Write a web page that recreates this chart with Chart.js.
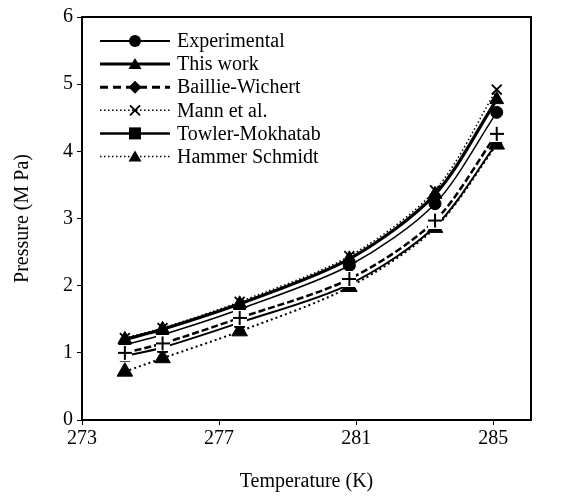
<!DOCTYPE html>
<html>
<head>
<meta charset="utf-8">
<script src="https://cdn.jsdelivr.net/npm/chart.js@4.4.1/dist/chart.umd.min.js"></script>
<style>
  html, body { margin: 0; padding: 0; background: #fff; overflow: hidden; }
  #wrap { position: relative; width: 561px; height: 498px; }
</style>
</head>
<body>
<div id="wrap"><canvas id="chart"></canvas></div>
<script>
// ── Data ──────────────────────────────────────────────────────────
var temps        = [274.25, 275.35, 277.6, 280.8, 283.3, 285.1];
var experimental = [1.12, 1.27, 1.65, 2.30, 3.22, 4.58];
var thisWork     = [1.20, 1.35, 1.73, 2.40, 3.36, 4.77];
var baillie      = [1.00, 1.14, 1.52, 2.10, 2.97, 4.26];
var mann         = [1.22, 1.37, 1.76, 2.44, 3.42, 4.92];
var towler       = [0.95, 1.08, 1.45, 2.02, 2.88, 4.12];
var hammer       = [0.72, 0.92, 1.32, 1.98, 2.86, 4.10];
var xTicks = [273, 277, 281, 285];
var yTicks = [0, 1, 2, 3, 4, 5, 6];

var SERIF = '"Liberation Serif", "Times New Roman", serif';
Chart.defaults.font.family = SERIF;
Chart.defaults.color = '#000';

function pts(ys) {
  return ys.map(function (y, i) { return { x: temps[i], y: y }; });
}

// white box with a plus, as the markers in the plot
function plusBox() {
  var c = document.createElement('canvas');
  c.width = 14; c.height = 16;
  var g = c.getContext('2d');
  g.fillStyle = '#fff';
  g.fillRect(0, 0, 14, 16);
  g.strokeStyle = '#000';
  g.lineWidth = 2;
  g.beginPath();
  g.moveTo(7, 1); g.lineTo(7, 15);
  g.moveTo(0, 8); g.lineTo(14, 8);
  g.stroke();
  return c;
}

// ── Legend entries (drawn by hand: line sample + marker) ──────────
var legendItems = [
  { text: 'Experimental',    width: 2,   dash: [],     marker: 'circle' },
  { text: 'This work',       width: 3,   dash: [],     marker: 'triangle' },
  { text: 'Baillie-Wichert', width: 3,   dash: [8, 5], marker: 'diamond' },
  { text: 'Mann et al.',     width: 1.5, dash: [1.5, 2.5], marker: 'x' },
  { text: 'Towler-Mokhatab', width: 2.5, dash: [],     marker: 'square' },
  { text: 'Hammer Schmidt',  width: 1.5, dash: [1.5, 2.5], marker: 'triangle' }
];

function drawMarker(ctx, kind, x, y) {
  ctx.save();
  ctx.fillStyle = '#000';
  ctx.strokeStyle = '#000';
  ctx.setLineDash([]);
  ctx.beginPath();
  if (kind === 'circle') {
    ctx.arc(x, y, 6, 0, Math.PI * 2);
    ctx.fill();
  } else if (kind === 'triangle') {
    ctx.moveTo(x, y - 6); ctx.lineTo(x + 6.5, y + 5); ctx.lineTo(x - 6.5, y + 5);
    ctx.closePath(); ctx.fill();
  } else if (kind === 'diamond') {
    ctx.moveTo(x, y - 6.5); ctx.lineTo(x + 6.5, y); ctx.lineTo(x, y + 6.5); ctx.lineTo(x - 6.5, y);
    ctx.closePath(); ctx.fill();
  } else if (kind === 'square') {
    ctx.fillRect(x - 6, y - 6, 12, 12);
  } else if (kind === 'x') {
    ctx.lineWidth = 1.8;
    ctx.moveTo(x - 5, y - 5); ctx.lineTo(x + 5, y + 5);
    ctx.moveTo(x + 5, y - 5); ctx.lineTo(x - 5, y + 5);
    ctx.stroke();
  }
  ctx.restore();
}

var legendPlugin = {
  id: 'handLegend',
  afterDraw: function (chart) {
    var ctx = chart.ctx;
    var x0 = 100, x1 = 170, xm = 135, xt = 177;
    var y = 41, step = 23.1;
    legendItems.forEach(function (it, i) {
      var yy = y + i * step;
      ctx.save();
      ctx.strokeStyle = '#000';
      ctx.lineWidth = it.width;
      ctx.setLineDash(it.dash);
      ctx.beginPath();
      ctx.moveTo(x0, yy); ctx.lineTo(x1, yy);
      ctx.stroke();
      ctx.restore();
      drawMarker(ctx, it.marker, xm, yy);
      ctx.save();
      ctx.fillStyle = '#000';
      ctx.font = '20px ' + SERIF;
      ctx.textBaseline = 'middle';
      ctx.fillText(it.text, xt, yy + 1);
      ctx.restore();
    });
  }
};

var framePlugin = {
  id: 'frame',
  afterDraw: function (chart) {
    var a = chart.chartArea, ctx = chart.ctx;
    ctx.save();
    ctx.strokeStyle = '#000';
    ctx.lineWidth = 2;
    ctx.beginPath();
    ctx.moveTo(a.left, a.top); ctx.lineTo(a.right, a.top); ctx.lineTo(a.right, a.bottom);
    ctx.stroke();
    ctx.restore();
  }
};

function series(data, opts) {
  var d = {
    data: pts(data),
    borderColor: '#000',
    backgroundColor: '#000',
    pointBackgroundColor: '#000',
    pointBorderColor: '#000',
    borderWidth: 2,
    tension: 0.3,
    fill: false,
    pointBorderWidth: 1
  };
  for (var k in opts) d[k] = opts[k];
  return d;
}

function noPad(s) {
  s.paddingLeft = 0; s.paddingRight = 0; s.paddingTop = 0; s.paddingBottom = 0;
}

var plusImg = plusBox();

new Chart(document.getElementById('chart'), {
  type: 'line',
  data: {
    datasets: [
      series(thisWork, { label: 'This work', borderWidth: 3.2, pointStyle: 'triangle', pointRadius: 8 }),
      series(mann, { label: 'Mann et al.', borderWidth: 1.5, borderDash: [1.5, 2.5], pointStyle: 'crossRot', pointRadius: 7, pointBorderWidth: 1.8 }),
      series(baillie, { label: 'Baillie-Wichert', borderWidth: 2.5, borderDash: [7, 3], pointStyle: plusImg }),
      series(experimental, { label: 'Experimental', borderWidth: 1.5, pointStyle: 'circle', pointRadius: 6 }),
      series(towler, { label: 'Towler-Mokhatab', borderWidth: 2, pointStyle: 'rect', pointRadius: 7 }),
      series(hammer, { label: 'Hammer Schmidt', borderWidth: 2, borderDash: [2, 3], pointStyle: 'triangle', pointRadius: 9 })
    ]
  },
  options: {
    responsive: true,
    maintainAspectRatio: false,
    animation: false,
    layout: { padding: { top: 17, right: 30, bottom: 0, left: 0 } },
    plugins: {
      legend: { display: false },
      tooltip: { enabled: false }
    },
    scales: {
      x: {
        type: 'linear',
        min: 273,
        max: 286.1,
        border: { display: true, color: '#000', width: 2 },
        grid: { drawOnChartArea: false, drawTicks: true, tickLength: 5, color: '#000', lineWidth: 1 },
        ticks: { color: '#000', font: { size: 20 }, padding: 2, maxRotation: 0 },
        afterBuildTicks: function (s) {
          s.ticks = xTicks.map(function (v) { return { value: v }; });
        },
        afterFit: function (s) { s.height = 78; noPad(s); },
        title: { display: true, text: 'Temperature (K)', color: '#000', font: { size: 20 }, padding: { top: 0, bottom: 4 } }
      },
      y: {
        min: 0,
        max: 6,
        border: { display: true, color: '#000', width: 2 },
        grid: { drawOnChartArea: false, drawTicks: true, tickLength: 5, color: '#000', lineWidth: 1 },
        ticks: { color: '#000', font: { size: 20 }, padding: 4 },
        afterBuildTicks: function (s) {
          s.ticks = yTicks.map(function (v) { return { value: v }; });
        },
        afterFit: function (s) { s.width = 82; noPad(s); },
        title: { display: true, text: 'Pressure (M Pa)', color: '#000', font: { size: 20 }, padding: { top: 11, bottom: 0 } }
      }
    }
  },
  plugins: [legendPlugin, framePlugin]
});
</script>
</body>
</html>
